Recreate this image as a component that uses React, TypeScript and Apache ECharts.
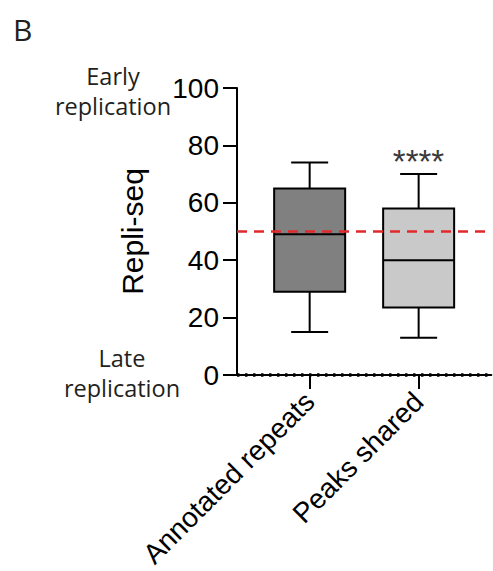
import React, { useEffect, useRef } from "react";
import * as echarts from "echarts";

// ---- data ----
const categories = ["Annotated repeats", "Peaks shared"];
const whiskerLow = [15, 13];
const quartile1 = [29, 23.5];
const medians = [49, 40];
const quartile3 = [65, 58];
const whiskerHigh = [74, 70];
const thresholdValue = 50;
const yMin = 0;
const yMax = 100;
const yInterval = 20;
const significance = "****";
const panelLetter = "B";
const topNote = "Early\nreplication";
const bottomNote = "Late\nreplication";
const yName = "Repli-seq";

// layout of the category axis: 8 slots, boxes in slots 2 and 5
const slotIndex = [2, 5];
const slotCount = 8;
const axisSlots: string[] = Array.from({ length: slotCount }, () => "");
slotIndex.forEach((s, i) => (axisSlots[s] = categories[i]));

const boxFills = ["#808080", "#c9c9c9"];

export default function App() {
  const ref = useRef<HTMLDivElement>(null);
  useEffect(() => {
    if (!ref.current) return;
    const chart = echarts.init(ref.current, null, { renderer: "svg" });
    const data = categories.map((_, i) => [
      slotIndex[i],
      whiskerLow[i],
      quartile1[i],
      medians[i],
      quartile3[i],
      whiskerHigh[i],
    ]);
    const armFont = "'Liberation Sans', Arial, Helvetica, sans-serif";
    const noteFont = "'Open Sans', 'Noto Sans', sans-serif";
    chart.setOption({
      animation: false,
      grid: {
        left: 237,
        top: 88,
        width: 254.3,
        bottom: 196,
        containLabel: false,
        outerBoundsMode: "none",
      },
      xAxis: {
        type: "category",
        data: axisSlots,
        boundaryGap: false,
        axisLine: { show: true, lineStyle: { color: "#000", width: 2 } },
        axisTick: {
          show: true,
          length: 14,
          interval: (i: number) => slotIndex.includes(i),
          lineStyle: { color: "#000", width: 2 },
        },
        axisLabel: {
          interval: (i: number) => slotIndex.includes(i),
          rotate: 45,
          margin: 22,
          fontSize: 28,
          fontFamily: armFont,
          color: "#000",
        },
        splitLine: { show: false },
      },
      yAxis: {
        type: "value",
        min: yMin,
        max: yMax,
        interval: yInterval,
        name: yName,
        nameLocation: "middle",
        nameGap: 90,
        nameTextStyle: { fontSize: 30, fontFamily: armFont, color: "#000" },
        axisLine: { show: true, lineStyle: { color: "#000", width: 2 } },
        axisTick: { show: true, length: 14, lineStyle: { color: "#000", width: 2 } },
        axisLabel: { fontSize: 28, fontFamily: armFont, color: "#000", margin: 18 },
        splitLine: { show: false },
      },
      series: [
        {
          type: "custom",
          data,
          encode: { x: 0, y: [1, 2, 3, 4, 5] },
          renderItem: (params: any, api: any) => {
            const x = api.value(0);
            const lo = api.coord([x, api.value(1)]);
            const q1 = api.coord([x, api.value(2)]);
            const med = api.coord([x, api.value(3)]);
            const q3 = api.coord([x, api.value(4)]);
            const hi = api.coord([x, api.value(5)]);
            const cx = lo[0];
            const bw = 71;
            const cw = 37;
            const st = { stroke: "#000", lineWidth: 2 };
            return {
              type: "group",
              children: [
                { type: "line", shape: { x1: cx, y1: hi[1], x2: cx, y2: q3[1] }, style: st },
                { type: "line", shape: { x1: cx, y1: q1[1], x2: cx, y2: lo[1] }, style: st },
                { type: "line", shape: { x1: cx - cw / 2, y1: hi[1], x2: cx + cw / 2, y2: hi[1] }, style: st },
                { type: "line", shape: { x1: cx - cw / 2, y1: lo[1], x2: cx + cw / 2, y2: lo[1] }, style: st },
                {
                  type: "rect",
                  shape: { x: cx - bw / 2, y: q3[1], width: bw, height: q1[1] - q3[1] },
                  style: { fill: boxFills[params.dataIndex], stroke: "#000", lineWidth: 2 },
                },
                { type: "line", shape: { x1: cx - bw / 2, y1: med[1], x2: cx + bw / 2, y2: med[1] }, style: st },
              ],
            };
          },
          markLine: {
            silent: true,
            symbol: "none",
            label: { show: false },
            data: [
              { yAxis: thresholdValue, lineStyle: { color: "#e3282b", width: 2.5, type: [10, 7] } },
              { yAxis: yMin, lineStyle: { color: "#000", width: 3.5, type: [2.5, 5.5] } },
            ],
          },
        },
      ],
      graphic: [
        {
          type: "text",
          left: 13,
          top: 14,
          style: { text: panelLetter, fontSize: 30, fontFamily: noteFont, fill: "#231f20" },
        },
        {
          type: "text",
          x: 113,
          y: 91,
          style: {
            text: topNote,
            fontSize: 23.5,
            lineHeight: 30,
            fontFamily: noteFont,
            fill: "#231f20",
            align: "center",
            verticalAlign: "middle",
          },
        },
        {
          type: "text",
          x: 122,
          y: 373,
          style: {
            text: bottomNote,
            fontSize: 23.5,
            lineHeight: 30,
            fontFamily: noteFont,
            fill: "#231f20",
            align: "center",
            verticalAlign: "middle",
          },
        },
        {
          type: "text",
          x: 418.5,
          y: 161,
          style: {
            text: significance,
            fontSize: 33,
            fontFamily: armFont,
            fill: "#3a3a3a",
            align: "center",
            verticalAlign: "middle",
          },
        },
      ],
    });
    return () => chart.dispose();
  }, []);
  return (
    <div
      ref={ref}
      style={{ position: "fixed", left: 0, top: 0, width: 493, height: 571, background: "#fff" }}
    />
  );
}
